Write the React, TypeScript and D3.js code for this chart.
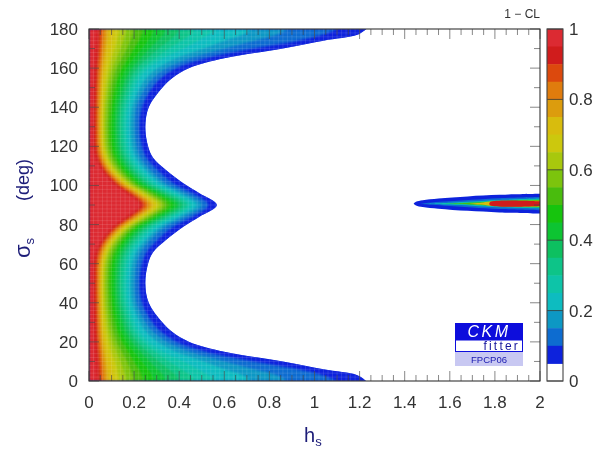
import React from "react";
import * as d3 from "d3";

const W = 595, H = 451;
const left = 89, right = 540, top = 29, bottom = 381;
const barL = 547, barR = 563;

// CL levels of the contour lines, from the innermost outwards
const levels = [.95, .9, .85, .8, .75, .7, .65, .6, .55, .5, .45, .4, .35, .3, .25, .2, .15, .1, .05];
// colour of the band lying above each level
const bandColors = ["#dc2a30", "#d01a1a", "#dc4a10", "#e07c10", "#dc9c10", "#d8bc10", "#ccc810", "#a8c810", "#7cc410", "#4abc10",
  "#18c410", "#10c430", "#10c060", "#10c488", "#10c4a8", "#10bcc0", "#1098c4", "#0c6cd0", "#0a22dc"];

const sigmaRows = [0, 3, 6, 10, 15, 20, 25, 30, 40, 50, 60, 66, 72, 79, 84, 90];
const contourHs = [
  [.035, .05, .06, .07, .085, .11, .135, .165, .2, .24, .29, .34, .40, .47, .57, .72, .88, 1.1, 1.23],
  [.034, .049, .059, .069, .083, .107, .13, .16, .193, .232, .28, .33, .385, .45, .53, .68, .83, 1.03, 1.19],
  [.033, .047, .057, .067, .08, .102, .124, .152, .183, .22, .262, .305, .355, .41, .485, .6, .73, .92, 1.04],
  [.031, .045, .054, .063, .075, .095, .115, .14, .168, .198, .235, .27, .31, .355, .42, .51, .6, .72, .86],
  [.028, .041, .05, .058, .068, .084, .1, .122, .145, .172, .2, .23, .26, .295, .33, .385, .445, .51, .60],
  [.025, .037, .046, .053, .062, .074, .088, .104, .122, .145, .168, .192, .215, .24, .265, .305, .345, .385, .445],
  [.023, .035, .043, .05, .057, .067, .079, .092, .108, .126, .146, .166, .185, .205, .225, .254, .285, .318, .37],
  [.021, .033, .041, .048, .054, .062, .073, .084, .098, .114, .132, .15, .167, .185, .203, .226, .25, .278, .325],
  [.02, .031, .039, .045, .051, .057, .066, .074, .087, .099, .114, .129, .144, .159, .174, .192, .21, .233, .265],
  [.019, .03, .038, .044, .05, .056, .064, .071, .083, .093, .108, .123, .137, .152, .167, .184, .202, .222, .25],
  [.021, .032, .04, .047, .053, .06, .068, .076, .088, .099, .115, .13, .144, .16, .175, .192, .211, .233, .262],
  [.03, .042, .05, .058, .065, .073, .082, .09, .103, .115, .131, .146, .161, .177, .193, .21, .229, .253, .285],
  [.056, .068, .077, .085, .093, .102, .112, .122, .135, .148, .165, .18, .197, .214, .232, .25, .27, .3, .34],
  [.108, .122, .132, .142, .152, .162, .173, .184, .197, .21, .227, .244, .26, .278, .297, .318, .34, .372, .42],
  [.167, .184, .196, .207, .218, .23, .242, .255, .27, .286, .304, .322, .34, .36, .38, .40, .425, .455, .49],
  [.226, .24, .253, .265, .278, .292, .307, .322, .337, .355, .375, .395, .415, .435, .455, .477, .5, .527, .567],
];

// second solution near hs = 2: half-width in sigma for [hs, half-width]
const islandCentre = 90.7;
const islandLevels = [.05, .1, .2, .3, .5, .7, .9];
const islandContours: [number, number][][] = [
  [[1.44, 0], [1.45, .9], [1.48, 1.7], [1.55, 2.6], [1.68, 3.7], [1.82, 4.5], [2, 5]],
  [[1.47, 0], [1.52, .6], [1.6, 1.2], [1.7, 2], [1.82, 2.8], [2, 3.4]],
  [[1.5, 0], [1.6, .5], [1.7, 1.1], [1.82, 1.9], [2, 2.6]],
  [[1.55, 0], [1.65, .5], [1.75, 1.1], [1.85, 1.7], [2, 2.2]],
  [[1.6, 0], [1.7, .4], [1.78, .9], [1.85, 1.4], [2, 1.8]],
  [[1.68, 0], [1.74, .5], [1.78, 1.1], [2, 1.5]],
  [[1.775, 0], [1.78, 1], [2, 1.2]],
];

const xTicks = [0, .2, .4, .6, .8, 1, 1.2, 1.4, 1.6, 1.8, 2];
const xMinor = d3.range(0, 2.001, .05);
const yTicks = [0, 20, 40, 60, 80, 100, 120, 140, 160, 180];
const yMinor = d3.range(0, 181, 10);
const barTicks = [0, .2, .4, .6, .8, 1];
const gridHs = d3.range(0, 1.3, .02);
const gridSigma = d3.range(0, 181, 2);

const font = "'Liberation Sans', Arial, sans-serif";
const ink = "#333";
const navy = "#1c1c78";

export default function App() {
  const x = d3.scaleLinear().domain([0, 2]).range([left, right]);
  const y = d3.scaleLinear().domain([0, 180]).range([bottom, top]);
  const bar = d3.scaleLinear().domain([0, 1]).range([bottom, top]);

  const area = d3.area<[number, number]>()
    .y(d => y(d[0])).x0(x(0)).x1(d => x(d[1]))
    .curve(d3.curveCatmullRom.alpha(0.5));

  const contour = (li: number) => {
    const lower = sigmaRows.map((s, r) => [s, contourHs[r][li]] as [number, number]);
    const upper = sigmaRows.slice(0, -1).reverse().map(s => [180 - s, contourHs[sigmaRows.indexOf(s)][li]] as [number, number]);
    return area([...lower, ...upper]) as string;
  };
  const outer = contour(levels.length - 1);

  const island = d3.area<[number, number]>()
    .x(d => x(d[0])).y0(d => y(islandCentre - d[1])).y1(d => y(islandCentre + d[1]))
    .curve(d3.curveCatmullRom.alpha(0.5));

  const bands = levels.map((l, i) => ({ l, c: bandColors[i], hi: i === 0 ? 1 : levels[i - 1] }));

  return (
    <svg width={W} height={H} style={{ position: "absolute", left: 0, top: 0, background: "#fff" }} fontFamily={font}>
      <defs>
        <filter id="soft" x="-5%" y="-5%" width="110%" height="110%"><feGaussianBlur stdDeviation="1.1" /></filter>
        <filter id="softIsle" x="-5%" y="-30%" width="110%" height="160%"><feGaussianBlur stdDeviation="0.6" /></filter>
        <filter id="softText" x="-20%" y="-20%" width="140%" height="140%"><feGaussianBlur stdDeviation="0.35" /></filter>
        <clipPath id="plot"><rect x={left} y={top} width={right - left} height={bottom - top} /></clipPath>
        <clipPath id="outer"><path d={outer} /></clipPath>
      </defs>

      <g clipPath="url(#plot)">
        <path d={outer} fill={bandColors[bandColors.length - 1]} filter="url(#softText)" />
        <g clipPath="url(#outer)">
          <g filter="url(#soft)">
            {[...bands].reverse().map((b) => <path key={b.l} d={contour(levels.indexOf(b.l))} fill={b.c} />)}
          </g>
          <g stroke="#fff" strokeOpacity={0.11} strokeWidth={1} filter="url(#softText)">
            {gridHs.map(h => <line key={h} x1={x(h)} x2={x(h)} y1={top} y2={bottom} />)}
            {gridSigma.map(s => <line key={s} x1={left} x2={right} y1={y(s)} y2={y(s)} />)}
          </g>
        </g>
        <g filter="url(#softIsle)">
          {islandContours.map((pts, i) => (
            <path key={i} d={island(pts) as string} fill={bandColors[levels.indexOf(islandLevels[i])]} />
          ))}
        </g>
      </g>

      {/* minor and major ticks on all four sides */}
      <g stroke="#444" strokeWidth={0.8} opacity={0.8}>
        {xMinor.map(v => {
          const major = Math.abs(v * 5 - Math.round(v * 5)) < 1e-6;
          const l = major ? 10 : 6;
          return <g key={v}>
            <line x1={x(v)} x2={x(v)} y1={bottom} y2={bottom - l} />
            <line x1={x(v)} x2={x(v)} y1={top} y2={top + l} />
          </g>;
        })}
        {yMinor.map(v => {
          const l = v % 20 === 0 ? 10 : 6;
          return <g key={v}>
            <line x1={left} x2={left + l} y1={y(v)} y2={y(v)} />
            <line x1={right} x2={right - l} y1={y(v)} y2={y(v)} />
          </g>;
        })}
      </g>
      <rect x={left} y={top} width={right - left} height={bottom - top} fill="none" stroke="#333" strokeWidth={1.1} />

      {/* axis numbers */}
      <g fill={ink} fontSize={17} filter="url(#softText)">
        {xTicks.map(v => <text key={v} x={x(v)} y={408} textAnchor="middle">{v}</text>)}
        {yTicks.map(v => <text key={v} x={78} y={y(v) + 6} textAnchor="end">{v}</text>)}
        {barTicks.map(v => <text key={v} x={569} y={bar(v) + 6}>{v}</text>)}
        <text x={540} y={18} fontSize={12} textAnchor="end">1 − CL</text>
      </g>

      {/* axis titles */}
      <g fill={navy} filter="url(#softText)">
        <text x={304} y={442} fontSize={20}>h<tspan fontSize={13} dy={4}>s</tspan></text>
        <text transform="translate(30,258) rotate(-90)" fontSize={22}>σ<tspan fontSize={13} dy={4}>s</tspan></text>
        <text transform="translate(29,201) rotate(-90)" fontSize={18}>(deg)</text>
      </g>

      {/* colour bar */}
      <g filter="url(#softText)">
        {bands.map(b => (
          <rect key={b.l} x={barL} width={barR - barL} y={bar(b.hi)} height={bar(b.l) - bar(b.hi) + 0.5} fill={b.c} />
        ))}
        {barTicks.map(v => <line key={v} x1={barL} x2={barR} y1={bar(v)} y2={bar(v)} stroke="#333" strokeWidth={0.8} />)}
        <rect x={barL} y={top} width={barR - barL} height={bottom - top} fill="none" stroke="#444" strokeWidth={1.1} />
      </g>

      {/* CKMfitter logo */}
      <g filter="url(#softText)">
        <rect x={455} y={323} width={68} height={17} fill="#0808dc" />
        <text x={489} y={337} textAnchor="middle" fill="#fff" fontSize={16} fontStyle="italic" letterSpacing={2.5}>CKM</text>
        <rect x={455.5} y={340} width={67} height={11.5} fill="#fff" stroke="#0808dc" />
        <text x={520} y={350} textAnchor="end" fill="#14149c" fontSize={12} letterSpacing={2.2}>fitter</text>
        <rect x={455} y={352} width={68} height={14} fill="#c8c8f2" />
        <text x={489} y={363} textAnchor="middle" fill="#1818b0" fontSize={9.5}>FPCP06</text>
      </g>
    </svg>
  );
}
